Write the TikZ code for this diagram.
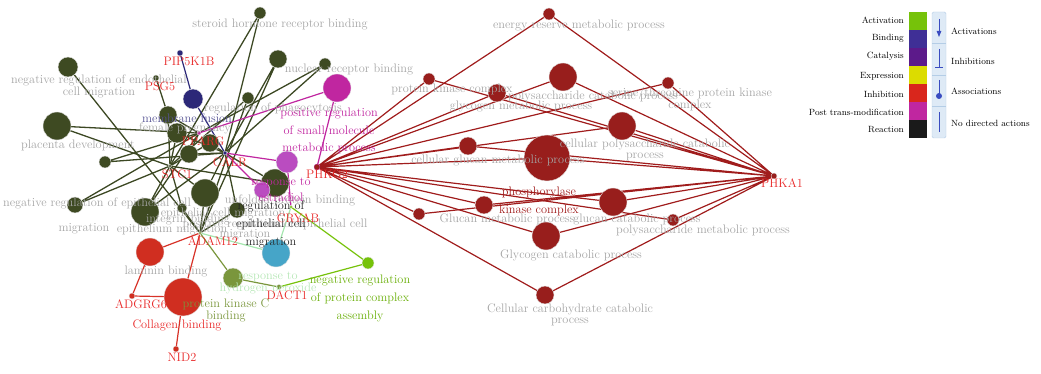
\documentclass[tikz,border=0pt]{standalone}
\usepackage{tikz}
\usetikzlibrary{backgrounds}
\usetikzlibrary{arrows.meta}

\definecolor{termolive}{RGB}{62,74,34}
\definecolor{termred}{RGB}{152,30,28}
\definecolor{termmag}{RGB}{192,38,160}
\definecolor{termlmag}{RGB}{186,76,192}
\definecolor{termnavy}{RGB}{44,40,120}
\definecolor{termbrick}{RGB}{208,46,32}
\definecolor{termblue}{RGB}{70,165,200}
\definecolor{termpkc}{RGB}{122,150,60}
\definecolor{termgreen}{RGB}{118,194,10}
\definecolor{labgray}{RGB}{165,165,165}
\definecolor{genered}{RGB}{232,40,40}
\definecolor{edgeolive}{RGB}{60,72,35}
\definecolor{edgered}{RGB}{160,28,28}
\definecolor{edgebrick}{RGB}{215,50,40}
\definecolor{edgelgreen}{RGB}{165,230,175}
\definecolor{lablgreen}{RGB}{180,230,180}
\definecolor{legblue}{RGB}{222,234,246}
\definecolor{legline}{RGB}{180,205,230}
\definecolor{legsym}{RGB}{58,76,192}

\begin{document}
\begin{tikzpicture}[x=1pt, y=-1pt,
    term/.style={circle, inner sep=0pt, draw=white!80!gray, line width=0.4pt},
    hub/.style={circle, inner sep=0pt, minimum size=4pt, draw=white!80!gray, line width=0.3pt},
    lab/.style={font=\fontsize{12.3}{11}\selectfont, text=labgray, inner sep=0pt, align=center},
    clab/.style={font=\fontsize{12.3}{17.5}\selectfont, inner sep=0pt, align=center},
    glab/.style={clab, text=genered},
    legl/.style={font=\fontsize{9}{10}\selectfont, inner sep=0pt},
    oedge/.style={draw=edgeolive, line width=1.3pt},
    redge/.style={draw=edgered, line width=1.2pt},
    medge/.style={draw=termmag, line width=1.2pt}]
\useasboundingbox (0,0) rectangle (1041,374);

% genes (hubs)
\node[hub, fill=termmag] (pparg) at (199,133) {};
\node[hub, fill=termnavy] (calr) at (225,153) {};
\node[hub, fill=termolive, minimum size=3pt] (stc1) at (170,166) {};
\node[hub, fill=termpkc, minimum size=3pt] (adam12) at (200,233) {};
\node[hub, fill=termolive, minimum size=6pt] (psg5) at (156,78) {};
\node[hub, fill=termnavy, minimum size=6pt] (pip5k1b) at (180,53) {};
\node[hub, fill=termgreen, minimum size=3pt] (cryab) at (291,207) {};
\node[hub, fill=termpkc, minimum size=5pt] (dact1) at (279,287) {};
\node[hub, fill=termbrick, minimum size=6pt] (adgrg6) at (132,296) {};
\node[hub, fill=termbrick, minimum size=6pt] (nid2) at (176,349) {};
\node[hub, fill=termred, draw=termmag, minimum size=6pt] (phkg2) at (317,167) {};
\node[hub, fill=termred, minimum size=6pt] (phka1) at (774,176) {};

% olive terms
\node[term, fill=termolive, minimum size=12pt] (steroid) at (260,13) {};
\node[term, fill=termolive, minimum size=18pt] (tb) at (278,59) {};
\node[term, fill=termolive, minimum size=12pt] (nuclear) at (325,64) {};
\node[term, fill=termolive, minimum size=12pt] (phago) at (248,98) {};
\node[term, fill=termolive, minimum size=20pt] (endo) at (68,67) {};
\node[term, fill=termolive, minimum size=28pt] (placenta) at (57,126) {};
\node[term, fill=termolive, minimum size=18pt] (female) at (168,115) {};
\node[term, fill=termolive, minimum size=20pt] (th) at (177,133) {};
\node[term, fill=termolive, minimum size=18pt] (ti) at (189,154) {};
\node[term, fill=termolive, minimum size=18pt] (tj) at (210,143) {};
\node[term, fill=termolive, minimum size=12pt] (tk) at (105,162) {};
\node[term, fill=termolive, minimum size=16pt] (negepi) at (75,205) {};
\node[term, fill=termolive, minimum size=28pt] (epimig) at (145,212) {};
\node[term, fill=termolive, minimum size=10pt] (integrin) at (182,208) {};
\node[term, fill=termolive, minimum size=28pt] (tm) at (205,193) {};
\node[term, fill=termolive, minimum size=16pt] (tn) at (237,210) {};
\node[term, fill=termolive, minimum size=28pt] (unfold) at (275,183) {};

% other left terms
\node[term, fill=termmag, minimum size=28pt] (posreg) at (337,88) {};
\node[term, fill=termlmag, minimum size=22pt] (estrbig) at (287,162) {};
\node[term, fill=termlmag, minimum size=16pt] (estr) at (262,190) {};
\node[term, fill=termnavy, minimum size=20pt] (membrane) at (193,99) {};
\node[term, fill=termbrick, minimum size=28pt] (laminin) at (150,252) {};
\node[term, fill=termbrick, minimum size=38pt] (collagen) at (183,297) {};
\node[term, fill=termpkc, minimum size=20pt] (pkc) at (233,278) {};
\node[term, fill=termblue, minimum size=28pt] (hydro) at (276,253) {};
\node[term, fill=termgreen, minimum size=12pt] (negcomplex) at (368,263) {};

% dark red terms
\node[term, fill=termred, minimum size=12pt] (energy) at (549,14) {};
\node[term, fill=termred, minimum size=12pt] (pkcomplex) at (429,79) {};
\node[term, fill=termred, minimum size=18pt] (glycmet) at (497,93) {};
\node[term, fill=termred, minimum size=28pt] (polycat) at (563,77) {};
\node[term, fill=termred, minimum size=12pt] (serthr) at (668,83) {};
\node[term, fill=termred, minimum size=28pt] (cellpoly) at (622,126) {};
\node[term, fill=termred, minimum size=18pt] (cellglucan) at (468,146) {};
\node[term, fill=termred, minimum size=46pt] (phoskin) at (547,158) {};
\node[term, fill=termred, minimum size=12pt] (glucanmet) at (419,214) {};
\node[term, fill=termred, minimum size=18pt] (glucanmeta) at (484,205) {};
\node[term, fill=termred, minimum size=28pt] (glucancat) at (613,202) {};
\node[term, fill=termred, minimum size=28pt] (glycocat) at (546,236) {};
\node[term, fill=termred, minimum size=12pt] (polymet) at (673,220) {};
\node[term, fill=termred, minimum size=18pt] (carbocat) at (545,295) {};

\begin{scope}[on background layer]
  % olive edges
  \draw[oedge] (steroid) -- (stc1) (steroid) -- (calr);
  \draw[oedge] (tb) -- (calr) (tb) -- (adam12);
  \draw[oedge] (nuclear) -- (pparg) (nuclear) -- (calr);
  \draw[oedge] (phago) -- (stc1) (phago) -- (adam12);
  \draw[oedge] (endo) -- (adam12);
  \draw[oedge] (placenta) -- (pparg) (placenta) -- (stc1);
  \draw[oedge] (female) -- (psg5) (female) -- (pparg) (female) -- (stc1);
  \draw[oedge] (th) -- (stc1) (th) -- (calr);
  \draw[oedge] (ti) -- (pparg) (ti) -- (calr);
  \draw[oedge] (tj) -- (stc1) (tj) -- (calr);
  \draw[oedge] (tk) -- (pparg) (tk) -- (calr);
  \draw[oedge] (negepi) -- (stc1) (negepi) -- (pparg);
  \draw[oedge] (epimig) -- (stc1) (epimig) -- (pparg) (epimig) -- (calr);
  \draw[oedge] (integrin) -- (stc1) (integrin) -- (adam12);
  \draw[oedge] (tm) -- (stc1) (tm) -- (calr) (tm) -- (adam12);
  \draw[oedge] (tn) -- (calr) (tn) -- (adam12);
  \draw[oedge] (unfold) -- (calr) (unfold) -- (stc1);
  % navy and magenta edges
  \draw[draw=termnavy, line width=1.2pt] (pip5k1b) -- (membrane) -- (calr);
  \draw[medge] (pparg) -- (posreg) (phkg2) -- (posreg);
  \draw[medge] (calr) -- (estrbig) (calr) -- (estr) (estrbig) -- (cryab);
  % red, olive-green and green edges
  \draw[draw=edgebrick, line width=1.2pt] (adam12) -- (laminin) (adam12) -- (collagen)
    (laminin) -- (adgrg6) -- (collagen) -- (nid2);
  \draw[draw=termpkc, line width=1.2pt] (adam12) -- (pkc) -- (dact1);
  \draw[draw=edgelgreen, line width=1.2pt] (adam12) -- (hydro) (cryab) -- (hydro);
  \draw[draw=termgreen, line width=1.2pt] (dact1) -- (negcomplex) (cryab) -- (negcomplex);
  % glycogen fan
  \draw[redge] (phkg2) -- (energy) (phkg2) -- (pkcomplex) (phkg2) -- (glycmet)
    (phkg2) -- (polycat) (phkg2) -- (serthr) (phkg2) -- (cellpoly) (phkg2) -- (cellglucan)
    (phkg2) -- (phoskin) (phkg2) -- (glucanmet) (phkg2) -- (glucanmeta) (phkg2) -- (glucancat)
    (phkg2) -- (glycocat) (phkg2) -- (polymet) (phkg2) -- (carbocat);
  \draw[redge] (phka1) -- (energy) (phka1) -- (pkcomplex) (phka1) -- (glycmet)
    (phka1) -- (polycat) (phka1) -- (serthr) (phka1) -- (cellpoly) (phka1) -- (cellglucan)
    (phka1) -- (phoskin) (phka1) -- (glucanmet) (phka1) -- (glucanmeta) (phka1) -- (glucancat)
    (phka1) -- (glycocat) (phka1) -- (polymet) (phka1) -- (carbocat);
\end{scope}

% gray term labels
\node[lab] (lsteroid) at (280,24) {steroid hormone receptor binding};
\node[lab] (lnuclear) at (349,69) {nuclear receptor binding};
\node[lab] (lendo) at (99,86) {negative regulation of endothelial\\cell migration};
\node[lab] (lphago) at (273,108) {regulation of phagocytosis};
\node[lab] (lfemale) at (185,128) {female pregnancy};
\node[lab] (lplacenta) at (78,145) {placenta development};
\node[lab] (lunfold) at (290,200) {unfolded protein binding};
\node[lab] (lnegepi) at (97,203) {negative regulation of epithelial cell};
\node[lab] (lepimig) at (223,213) {epithelial cell migration};
\node[lab] (lintegrin) at (188,219) {integrin binding};
\node[lab] (lposepi) at (275,224) {positive regulation of epithelial cell};
\node[lab] (lmigb) at (245,235) {migration};
\node[lab] (lmiga) at (84,229) {migration};
\node[lab] (lepithelium) at (172,229) {epithelium migration};
\node[lab] (llaminin) at (166,271) {laminin binding};
\node[lab] (lenergy) at (579,25) {energy reserve metabolic process};
\node[lab] (lpkcomplex) at (452,89) {protein kinase complex};
\node[lab] (lpolycat) at (593,96) {polysaccharide catabolic process};
\node[lab] (lglycmet) at (521,106) {glycogen metabolic process};
\node[lab] (lserthr) at (690,99) {serine/threonine protein kinase\\complex};
\node[lab] (lcellpoly) at (645,150) {cellular polysaccharide catabolic\\process};
\node[lab] (lcellglucan) at (498,160) {cellular glucan metabolic process};
\node[lab] (lglucanmet) at (507,219) {Glucan metabolic process};
\node[lab] (lglucancat) at (637,219) {glucan catabolic process};
\node[lab] (lpolymet) at (703,230) {polysaccharide metabolic process};
\node[lab] (lglycocat) at (571,255) {Glycogen catabolic process};
\node[lab] (lcarbocat) at (570,315) {Cellular carbohydrate catabolic\\process};

% coloured term labels
\node[clab, text=termnavy!80!white] (lmembrane) at (187,118) {membrane fusion};
\node[clab, text=termmag] (lposreg) at (329,131) {positive regulation\\of small molecule\\metabolic process};
\node[clab, text=termmag, font=\fontsize{12.3}{16}\selectfont] (lestr) at (281,190) {response to\\estradiol};
\node[clab, text=black!85, font=\fontsize{12.3}{18}\selectfont] (lregepi) at (271,224) {regulation of\\epithelial cell\\migration};
\node[clab, text=lablgreen, font=\fontsize{12.3}{12}\selectfont] (lhydro) at (268,283) {response to\\hydrogen peroxide};
\node[clab, text=termpkc, font=\fontsize{12.3}{12}\selectfont] (lpkc) at (226,310) {protein kinase C\\binding};
\node[clab, text=termgreen!90!black, font=\fontsize{12.3}{18}\selectfont] (lnegcomplex) at (360,298) {negative regulation\\of protein complex\\assembly};
\node[clab, text=edgered, font=\fontsize{12.3}{18}\selectfont] (lphoskin) at (539,201) {phosphorylase\\kinase complex};
\node[clab, text=genered] (lcollagen) at (177,325) {Collagen binding};

% gene labels
\node[glab] (lpip5k1b) at (189,61) {PIP5K1B};
\node[glab] (lpsg5) at (160,86) {PSG5};
\node[glab] (lpparg) at (203,141) {PPARG};
\node[glab] (lcalr) at (230,162) {CALR};
\node[glab] (lstc1) at (177,174) {STC1};
\node[glab] (lphkg2) at (327,174) {PHKG2};
\node[glab] (lcryab) at (298,218) {CRYAB};
\node[glab] (ladam12) at (213,241) {ADAM12};
\node[glab] (ladgrg6) at (141,304) {ADGRG6};
\node[glab] (lnid2) at (182,357) {NID2};
\node[glab] (ldact1) at (287,295) {DACT1};
\node[glab] (lphka1) at (782,183) {PHKA1};

% legend: colour squares
\node[minimum size=17.5pt, inner sep=0pt, fill=termgreen] (sqact) at (918,21) {};
\node[minimum size=17.5pt, inner sep=0pt, fill={rgb,255:red,63;green,47;blue,150}] (sqbind) at (918,39) {};
\node[minimum size=17.5pt, inner sep=0pt, fill={rgb,255:red,92;green,26;blue,138}] (sqcat) at (918,57) {};
\node[minimum size=17.5pt, inner sep=0pt, fill={rgb,255:red,220;green,220;blue,0}] (sqexp) at (918,75) {};
\node[minimum size=17.5pt, inner sep=0pt, fill={rgb,255:red,217;green,38;blue,28}] (sqinh) at (918,93) {};
\node[minimum size=17.5pt, inner sep=0pt, fill=termmag] (sqpost) at (918,111) {};
\node[minimum size=17.5pt, inner sep=0pt, fill={rgb,255:red,26;green,26;blue,26}] (sqreac) at (918,129) {};
\node[legl, anchor=east] (lact) at (904,20) {Activation};
\node[legl, anchor=east] (lbind) at (904,38) {Binding};
\node[legl, anchor=east] (lcat) at (904,56) {Catalysis};
\node[legl, anchor=east] (lexp) at (904,76) {Expression};
\node[legl, anchor=east] (linh) at (904,94) {Inhibition};
\node[legl, anchor=east] (lpost) at (904,112) {Post trans-modification};
\node[legl, anchor=east] (lreac) at (904,130) {Reaction};

% legend: action symbols
\draw[fill=legblue, draw=legline, rounded corners=1.5pt] (932,12) rectangle (946,138);
\draw[legline] (932,43) -- (946,43) (932,75) -- (946,75) (932,106) -- (946,106);
\draw[legsym, line width=0.9pt, -{Triangle[length=6pt,width=4.5pt]}] (939,19) -- (939,37);
\draw[legsym, line width=0.9pt] (939,49) -- (939,67) (935,67) -- (943,67);
\draw[legsym, line width=0.9pt] (939,80) -- (939,95);
\fill[legsym] (939,96) circle (3pt);
\draw[legsym, line width=0.9pt] (939,112) -- (939,132);
\node[legl, anchor=west] (lacts) at (951,31) {Activations};
\node[legl, anchor=west] (linhs) at (951,61) {Inhibitions};
\node[legl, anchor=west] (lassoc) at (951,91) {Associations};
\node[legl, anchor=west] (lnodir) at (951,123) {No directed actions};
\end{tikzpicture}
\end{document}
